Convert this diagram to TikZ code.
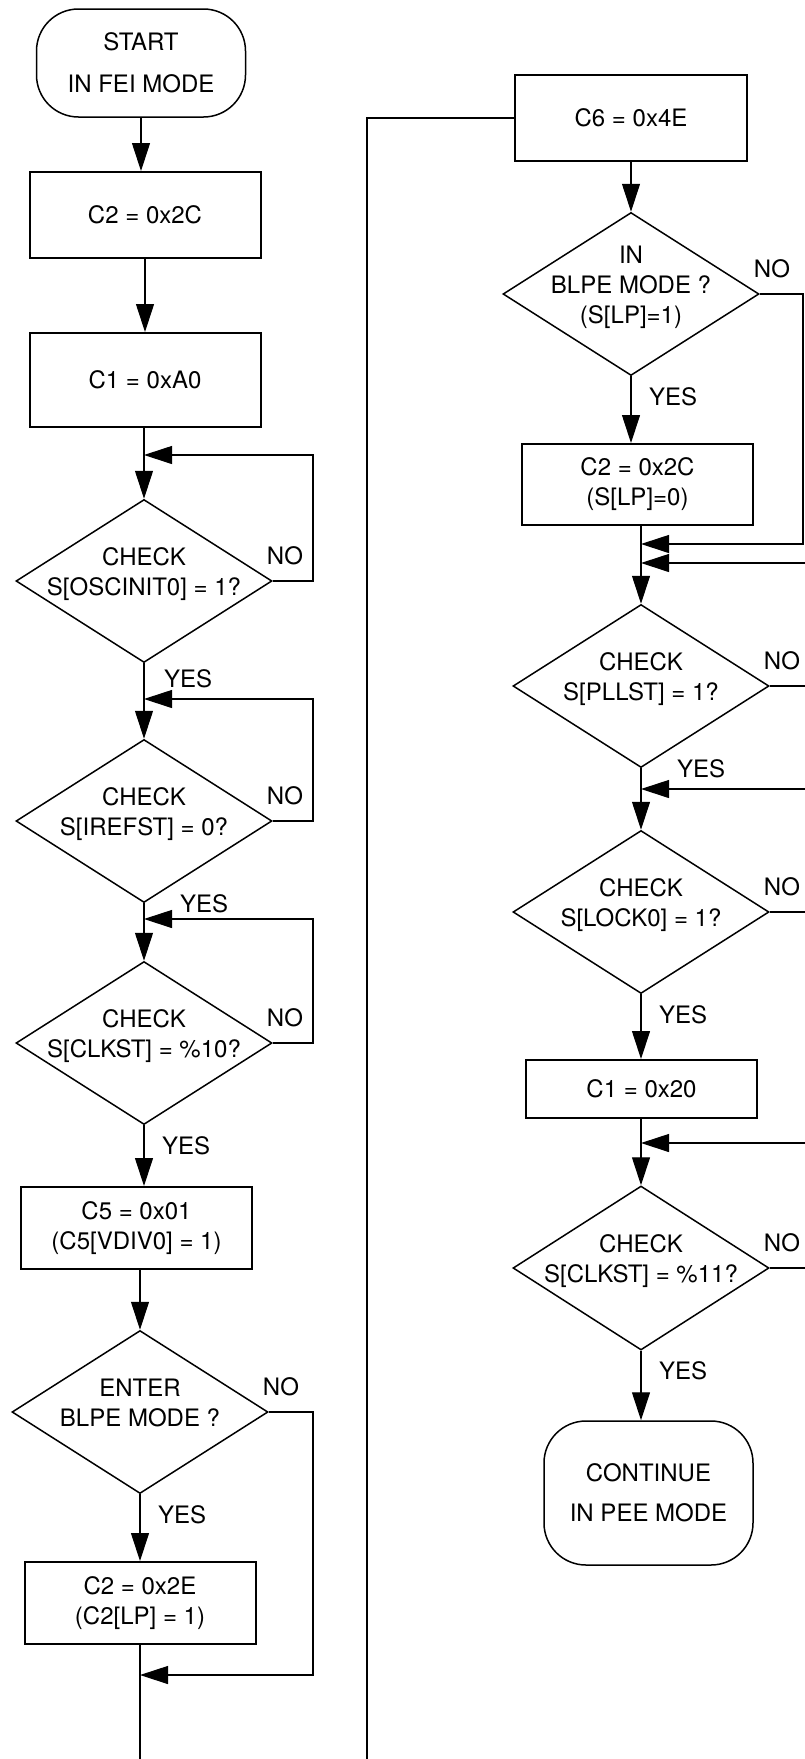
\documentclass[tikz,border=0pt]{standalone}
\usepackage{fontspec}
\setmainfont{TeX Gyre Heros}
\usetikzlibrary{arrows.meta,positioning,shapes.geometric}
\newcommand{\dectext}[1]{\makebox[0pt]{\smash{\begin{tabular}{@{}c@{}}#1\end{tabular}}}}
\tikzset{
  block/.style={draw, line width=2pt, align=center, minimum width=231pt, inner sep=3pt},
  decision/.style={draw, diamond, line width=1.5pt, inner sep=0pt, minimum width=256pt, minimum height=163pt},
  terminal/.style={draw, rounded corners=42pt, line width=1.5pt, align=center, minimum width=209pt},
  arrow/.style={-{Triangle[length=28pt, width=18pt]}, line width=1.1pt},
  plain/.style={line width=1.1pt},
  tag/.style={inner sep=0pt}
}

\begin{document}
\begin{tikzpicture}[x=1pt, y=-1pt, font=\fontsize{24}{30}\selectfont]
  \useasboundingbox (0,0) rectangle (804,1759);
  \coordinate (lrail) at (313,0);
  \coordinate (rail) at (803,0);
  \coordinate (farrail) at (812,0);

  % FEI -> FBE -> PBE
  \node[terminal, minimum height=108pt] (start) at (141,63) {START\\[12pt]IN FEI MODE};
  \node[block, minimum height=86pt] (c2a) at (145,215) {C2 = 0x2C};
  \node[block, minimum height=94pt] (c1a) at (145,380) {C1 = 0xA0};
  \node[decision] (osc) at (144,581) {\dectext{CHECK\\S[OSCINIT0] = 1?}};
  \node[decision] (iref) at (144,821) {\dectext{CHECK\\S[IREFST] = 0?}};
  \node[decision] (clk) at (144,1043) {\dectext{CHECK\\S[CLKST] = \%10?}};
  \node[block, minimum height=82pt] (c5) at (136.5,1228) {C5 = 0x01\\(C5[VDIV0] = 1)};
  \node[decision] (enter) at (140,1412) {\dectext{ENTER\\BLPE MODE ?}};
  \node[block, minimum height=82pt] (c2e) at (140,1603) {C2 = 0x2E\\(C2[LP] = 1)};
  \coordinate (k1) at (144,455);
  \coordinate (k2) at (144,699);
  \coordinate (k3) at (144,919);
  \coordinate (k4) at (140,1675);
  \coordinate (lend) at (140,1759);

  \node[tag, below right=6pt and 20pt of osc.south] (oscyes) {YES};
  \node[tag, above right=16pt and -6pt of osc.east] (oscno) {NO};
  \node[tag, right=36pt of iref.south] (irefyes) {YES};
  \node[tag, above right=16pt and -6pt of iref.east] (irefno) {NO};
  \node[tag, below right=11pt and 18pt of clk.south] (clkyes) {YES};
  \node[tag, above right=16pt and -6pt of clk.east] (clkno) {NO};
  \node[tag, below right=11pt and 18pt of enter.south] (enteryes) {YES};
  \node[tag, above right=16pt and -6pt of enter.east] (enterno) {NO};

  \draw[arrow] (start.south) -- (start.south |- c2a.north);
  \draw[arrow] (c2a) -- (c1a);
  \draw[arrow] (c1a.south -| osc.north) -- (osc.north);
  \draw[arrow] (osc.east) -- (osc.east -| lrail) |- (k1);
  \draw[arrow] (osc) -- (iref);
  \draw[arrow] (iref.east) -- (iref.east -| lrail) |- (k2);
  \draw[arrow] (iref) -- (clk);
  \draw[arrow] (clk.east) -- (clk.east -| lrail) |- (k3);
  \draw[arrow] (clk.south) -- (clk.south |- c5.north);
  \draw[arrow] (c5.south -| enter.north) -- (enter.north);
  \draw[arrow] (enter.south) -- (enter.south |- c2e.north);
  \draw[arrow] (enter.east) -- (enter.east -| lrail) |- (k4);
  \draw[plain] (c2e.south) -- (c2e.south |- lend);

  % PBE -> PEE
  \node[block, minimum width=232pt, minimum height=86pt] (c6) at (631,118) {C6 = 0x4E};
  \node[decision] (dia1) at (631,294) {\dectext{IN\\BLPE MODE ?\\(S[LP]=1)}};
  \node[block, minimum height=81pt] (c2b) at (637.5,484.5) {C2 = 0x2C\\(S[LP]=0)};
  \node[decision] (pll) at (641,686) {\dectext{CHECK\\S[PLLST] = 1?}};
  \node[decision] (lock) at (641,912) {\dectext{CHECK\\S[LOCK0] = 1?}};
  \node[block, minimum height=58pt] (c1b) at (641.5,1089) {C1 = 0x20};
  \node[decision, minimum height=164pt] (pee) at (641,1268) {\dectext{CHECK\\S[CLKST] = \%11?}};
  \node[terminal, minimum height=144pt] (fin) at (648.5,1493) {CONTINUE\\[10pt]IN PEE MODE};
  \coordinate (j1) at (641,544);
  \coordinate (j2) at (641,563);
  \coordinate (j3) at (641,789);
  \coordinate (j4) at (641,1143);
  \coordinate (rend) at (367,1759);

  \node[tag, below right=11pt and 18pt of dia1.south] (dia1yes) {YES};
  \node[tag, above right=16pt and -6pt of dia1.east] (dia1no) {NO};
  \node[tag, right=36pt of pll.south] (pllyes) {YES};
  \node[tag, above right=16pt and -6pt of pll.east] (pllno) {NO};
  \node[tag, below right=11pt and 18pt of lock.south] (lockyes) {YES};
  \node[tag, above right=16pt and -6pt of lock.east] (lockno) {NO};
  \node[tag, below right=11pt and 18pt of pee.south] (peeyes) {YES};
  \node[tag, above right=16pt and -6pt of pee.east] (peeno) {NO};

  \draw[plain] (c6.west) -| (rend);
  \draw[arrow] (c6) -- (dia1);
  \draw[arrow] (dia1.south) -- (dia1.south |- c2b.north);
  \draw[arrow] (c2b.south -| pll.north) -- (pll.north);
  \draw[arrow] (dia1.east) -- (dia1.east -| rail) |- (j1);
  \draw[arrow] (pll.east) -- (pll.east -| farrail) |- (j2);
  \draw[arrow] (pll) -- (lock);
  \draw[arrow] (lock.east) -- (lock.east -| farrail) |- (j3);
  \draw[arrow] (lock.south) -- (lock.south |- c1b.north);
  \draw[arrow] (c1b.south -| pee.north) -- (pee.north);
  \draw[arrow] (pee.east) -- (pee.east -| farrail) |- (j4);
  \draw[arrow] (pee.south) -- (pee.south |- fin.north);
\end{tikzpicture}
\end{document}
